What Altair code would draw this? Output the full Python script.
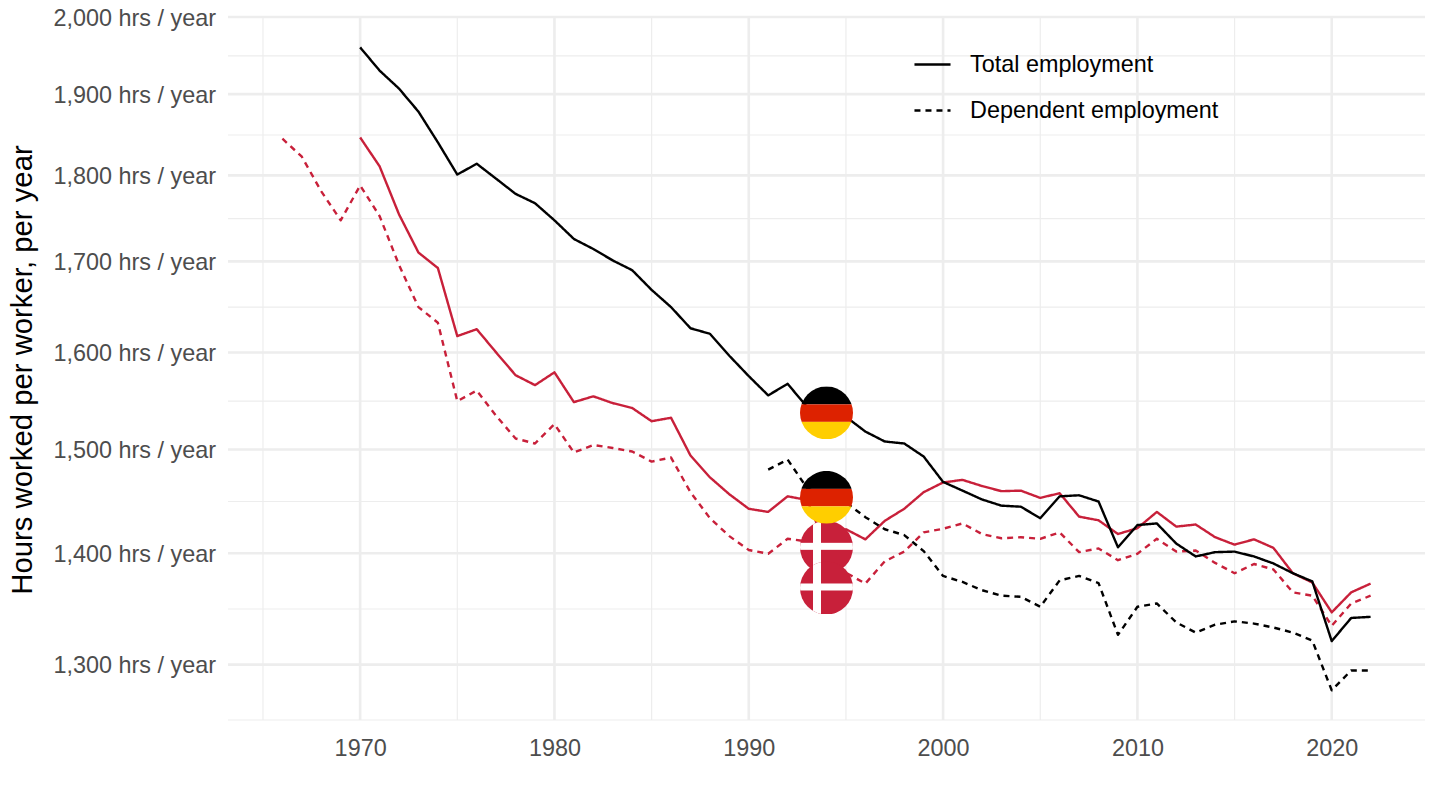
import base64
import altair as alt
import pandas as pd

years_de_total = list(range(1970, 2023))
de_total = [1960,1930,1907,1878,1840,1801,1814,1796,1778,1767,1747,1725.5,1714,1701,1690,1668,1649,1626,1620,1596.5,
            1575,1555,1567,1543,1537,1533,1518,1508,1506,1493,1468,1459.5,1451,1445,1444,1433,1454,1455,1449,1405.5,
            1426.5,1428,1409,1397,1401,1401.5,1397,1390.5,1381.5,1374,1320.5,1341,1342]
years_de_dep = list(range(1991, 2023))
de_dep = [1480,1490,1462,1453,1448,1434,1422.5,1417,1402,1379,1373.5,1366,1361,1360,1351,1375,1379,1372.5,1326,
          1351,1354,1337,1328,1335,1338,1336,1332.5,1328,1321,1278,1295,1295]
years_dk_total = list(range(1970, 2023))
dk_total = [1846,1811,1754,1710,1692.5,1617.5,1625,1600,1576,1565.6,1579,1548,1554,1547,1542,1528.5,1532,1494,1472.5,1456,
            1442,1439,1454,1450.5,1405.5,1422.5,1413,1430.5,1442,1458,1467.5,1470,1464,1459,1459.5,1452.5,1457,1434.5,1431,1418,
            1423.5,1439,1425,1427,1415,1408,1413,1405,1381.5,1373,1346,1364,1372]
years_dk_dep = list(range(1966, 2023))
dk_dep = [1844.5,1822.5,1781,1747,1788,1752,1696,1649,1632,1549,1560,1534,1511,1506,1525.5,1497,1504.5,1501.5,1498,1488,1492,
          1458,1433,1416,1403,1399.5,1413.5,1411,1368,1382,1372,1392.5,1401.5,1419.5,1423,1428,1418,1414,1415,1413.5,1419.5,
          1401,1404.5,1393.5,1399.5,1413.5,1401.5,1402.5,1391,1381.5,1390,1385,1364,1361,1334,1354,1361]

x_major = [1970, 1980, 1990, 2000, 2010, 2020]
x_minor = [1965, 1975, 1985, 1995, 2005, 2015]
y_major = [1300, 1400, 1500, 1600, 1700, 1800, 1900, 2000]
y_minor = [1253, 1349, 1449, 1549, 1649, 1749, 1849, 1949]
measures = ["Total employment", "Dependent employment"]
flag_year = 1994

RED = "#C8203A"
FONT = "Liberation Sans"


def uri(body):
    svg = ('<svg xmlns="http://www.w3.org/2000/svg" width="106" height="106" viewBox="0 0 106 106">'
           '<defs><clipPath id="c"><circle cx="53" cy="53" r="53"/></clipPath></defs>'
           '<g clip-path="url(#c)">' + body + '</g></svg>')
    return "data:image/svg+xml;base64," + base64.b64encode(svg.encode()).decode()


germany = uri('<rect width="106" height="36" y="0" fill="#000000"/>'
              '<rect width="106" height="35" y="36" fill="#DD2200"/>'
              '<rect width="106" height="35" y="71" fill="#FFCE00"/>')
denmark = uri('<rect width="106" height="106" fill="' + RED + '"/>'
              '<rect x="26" width="16" height="106" fill="#FFFFFF"/>'
              '<rect y="44" width="106" height="14" fill="#FFFFFF"/>')

frames = []
for country, measure, yrs, vals in [
    ("Denmark", measures[0], years_dk_total, dk_total),
    ("Denmark", measures[1], years_dk_dep, dk_dep),
    ("Germany", measures[0], years_de_total, de_total),
    ("Germany", measures[1], years_de_dep, de_dep),
]:
    frames.append(pd.DataFrame({"year": yrs, "hours": vals, "country": country, "measure": measure}))
df = pd.concat(frames, ignore_index=True)
flags = df[df.year == flag_year].copy()
flags["img"] = [denmark if c == "Denmark" else germany for c in flags.country]

xs = alt.Scale(domain=[1963.2, 2024.8], nice=False, zero=False)
ys = alt.Scale(type="log", domain=[1253, 2000], nice=False)
x_axis = alt.Axis(
    values=x_major, format="d", title=None, grid=False, domain=False, ticks=False,
    labelFont=FONT, labelFontSize=23.4, labelColor="#4D4D4D", labelPadding=17, labelFlush=False)
y_axis = alt.Axis(
    values=y_major, labelExpr="format(datum.value, ',') + ' hrs / year'",
    grid=False, domain=False, ticks=False, labelFont=FONT, labelFontSize=23.4,
    labelColor="#4D4D4D", labelPadding=12.5, labelFlush=False, labelOffset=1,
    title="Hours worked per worker, per year", titleFont=FONT, titleFontSize=29.3,
    titleFontWeight="normal", titleColor="#000000", titleX=-191, titleY=352.5)

grid = "#EDEDED"
minor_x = alt.Chart(pd.DataFrame({"v": x_minor})).mark_rule(color=grid, strokeWidth=1.2).encode(
    x=alt.X("v:Q", scale=xs, axis=x_axis))
minor_y = alt.Chart(pd.DataFrame({"v": y_minor})).mark_rule(color=grid, strokeWidth=1.2).encode(
    y=alt.Y("v:Q", scale=ys, axis=y_axis))
major_x = alt.Chart(pd.DataFrame({"v": x_major})).mark_rule(color=grid, strokeWidth=2.6).encode(
    x=alt.X("v:Q", scale=xs, axis=x_axis))
major_y = alt.Chart(pd.DataFrame({"v": y_major})).mark_rule(color=grid, strokeWidth=2.6).encode(
    y=alt.Y("v:Q", scale=ys, axis=y_axis))

lines = alt.Chart(df).mark_line(strokeWidth=2.4, strokeCap="butt", strokeJoin="round").encode(
    x=alt.X("year:Q", scale=xs, axis=x_axis),
    y=alt.Y("hours:Q", scale=ys, axis=y_axis),
    color=alt.Color("country:N", scale=alt.Scale(domain=["Germany", "Denmark"], range=["#000000", RED]), legend=None),
    strokeDash=alt.StrokeDash("measure:N", scale=alt.Scale(domain=measures, range=[[1, 0], [6, 5]]),
        legend=alt.Legend(title=None, orient="none", legendX=685, legendY=28, symbolType="stroke",
                          symbolSize=1300, symbolStrokeWidth=2.4, symbolStrokeColor="#000000",
                          labelFont=FONT, labelFontSize=23.4, labelColor="#000000", labelOffset=18,
                          labelLimit=500, rowPadding=15, symbolOpacity=1)),
    detail="country:N",
    order="year:Q",
)

flag_marks = alt.Chart(flags).mark_image(width=53, height=53).encode(
    x=alt.X("year:Q", scale=xs, axis=x_axis),
    y=alt.Y("hours:Q", scale=ys, axis=y_axis),
    url="img:N",
)

chart = alt.layer(
    minor_x, minor_y, major_x, major_y, lines, flag_marks
).properties(
    width=1197, height=703,
    autosize=alt.AutoSizeParams(type="none"),
    padding={"left": 220, "top": 9, "right": 7, "bottom": 70},
).configure_view(stroke=None)

chart.save("out.html", embed_options={"renderer": "svg", "actions": False})
